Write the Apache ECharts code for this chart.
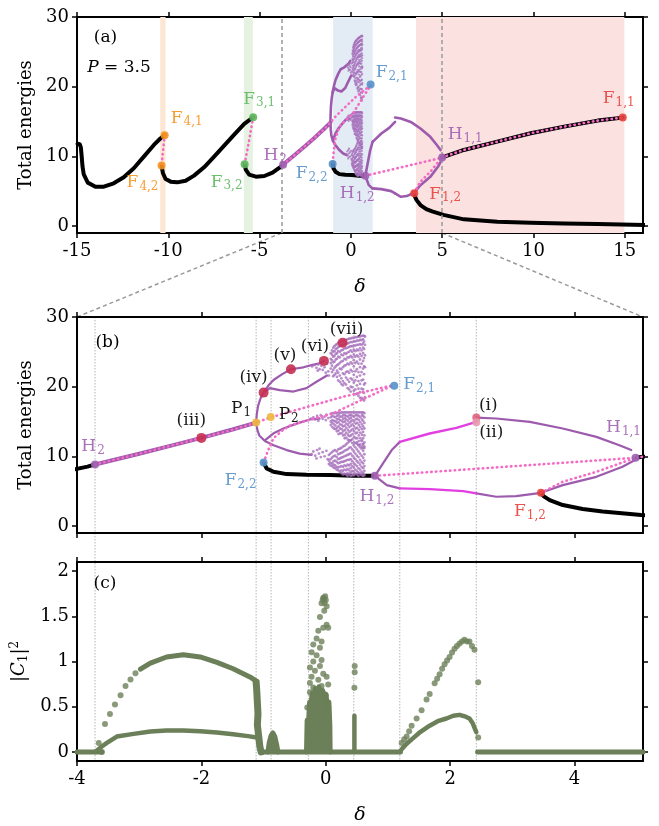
<!DOCTYPE html>
<html><head><meta charset="utf-8">
<script src="https://cdn.jsdelivr.net/npm/echarts@6/dist/echarts.min.js"></script>
<style>html,body{margin:0;padding:0;background:#fff}#c{width:659px;height:826px}</style>
</head><body><div id="c"></div>
<script>
// ================= DATA =================
const xTicksA = [-15,-10,-5,0,5,10,15];
const yTicksAB = [0,10,20,30];
const xTicksBC = [-4,-2,0,2,4];
const yTicksC = [0,0.5,1,1.5,2];

// shaded bands in (a)
const bandsA = [[-10.44,-10.15],[-5.86,-5.37],[-0.97,1.19],[3.57,14.98]];
// zoom window edges in (a)
const zoomEdgesA = [-3.8, 5.0];
// dotted guides in (b),(c)
const guideX = [-3.71,-1.12,-0.88,-0.28,0.45,1.19,2.42];

// stable branches (black)
const blk1 = [[-14.97,11.8],[-14.85,11.75],[-14.79,11.3],[-14.75,10.2],[-14.7,8.6],[-14.63,7.4],[-14.41,6.23],[-13.99,5.65],[-13.53,5.65],[-12.99,6.13],[-12.44,6.99],[-11.89,8.29],[-11.34,9.96],[-10.79,11.64],[-10.42,12.6],[-10.2,13.03]];
const blk2 = [[-10.37,8.67],[-10.35,8.52],[-10.29,7.57],[-10.15,6.75],[-9.87,6.37],[-9.51,6.27],[-9.05,6.51],[-8.59,7.23],[-8.04,8.43],[-7.49,9.96],[-6.94,11.54],[-6.39,13.12],[-5.84,14.66],[-5.35,15.61]];
const blk3 = [[-5.82,8.86],[-5.75,8.05],[-5.57,7.38],[-5.2,7.09],[-4.74,7.18],[-4.29,7.66],[-3.83,8.52],[-3.71,8.84]];
const blk4 = [[-1.0,9.1],[-0.95,8.26],[-0.84,7.78],[-0.63,7.45],[-0.31,7.35],[0.07,7.31],[0.44,7.21],[0.79,7.21]];
const blk5 = [[5.0,9.85],[6.19,10.92],[8.02,12.11],[9.85,13.32],[11.68,14.27],[13.52,15.13],[14.89,15.56]];
const blk6 = [[3.46,4.77],[3.5,4.3],[3.6,3.72],[3.81,3.01],[4.13,2.44],[4.45,2.1],[5.07,1.6],[6.19,0.96],[8.02,0.62],[9.85,0.48],[11.68,0.38],[13.52,0.29],[16.1,0.14]];

// unstable branches (pink dotted)
const pkF4 = [[-10.2,13.03],[-10.37,8.67]];
const pkF3 = [[-5.35,15.61],[-5.55,12.6],[-5.82,8.86]];
const pkUpper = [[-3.71,8.84],[-3.0,10.37],[-2.0,12.65],[-1.5,13.8],[-1.12,14.85],[-0.886,15.6],[-0.3,17.1],[0.3,18.6],[1.08,20.2]];
const pkLower = [[-1.0,9.13],[-0.9,11.5],[-0.84,12.6],[-0.7,13.7],[-0.58,14.4],[-0.2,15.4],[0.1,16.1],[0.6,18.2],[1.08,20.2]];
const pkH12H11 = [[0.79,7.21],[4.98,9.8]];
const pkF12H11 = [[3.46,4.77],[3.81,6.35],[4.35,7.78],[4.98,9.8]];
const pkH11F11 = [[5.0,9.85],[6.19,10.92],[8.02,12.11],[9.85,13.32],[11.68,14.27],[13.52,15.13],[14.89,15.56]];

// periodic orbits (purple)
const pH2P1 = [[-3.71,8.84],[-3.0,10.37],[-2.5,11.5],[-2.0,12.65],[-1.5,13.85],[-1.12,14.85]];
const pUp1 = [[-1.12,14.85],[-1.11,16.0],[-1.09,17.2],[-1.05,18.3],[-1.0,19.15],[-0.92,20.2],[-0.84,20.96],[-0.7,21.8],[-0.56,22.5],[-0.36,22.78],[-0.23,23.1],[-0.12,23.3],[-0.03,23.7]];
const pUp2 = [[-1.0,19.15],[-0.9,19.8],[-0.74,19.5],[-0.52,19.3],[-0.31,19.8],[-0.15,20.7],[0.02,21.6]];
const pLow1 = [[-1.12,14.85],[-1.1,13.8],[-1.07,13.0],[-0.98,12.2],[-0.84,11.6],[-0.63,10.9],[-0.42,10.4],[-0.23,10.2]];
const pLow2 = [[-0.98,12.3],[-0.84,13.3],[-0.68,14.0],[-0.47,14.7],[-0.26,15.3],[-0.1,15.4]];
const pLoopUpA = [[0.79,7.21],[0.92,8.98],[1.06,10.9],[1.19,12.08]];
const mLoopUp = [[1.19,12.08],[1.67,13.28],[2.1,14.09],[2.42,14.94]];
const pLoopUpB = [[2.42,15.57],[2.74,15.43],[3.28,14.94],[3.81,14.0],[4.35,12.8],[4.72,11.6],[4.91,10.9]];
const pLoopLowA = [[0.79,7.21],[0.98,5.87],[1.19,5.4]];
const mLoopLow = [[1.19,5.4],[1.67,5.3],[2.21,5.01],[2.42,4.68]];
const pLoopLowB = [[2.42,4.68],[2.74,4.2],[3.06,4.3],[3.46,4.77]];
const pF12H11 = [[3.46,4.77],[3.81,5.87],[4.35,7.06],[4.77,8.5],[4.98,9.5]];

// chaotic clouds (purple dots)
const cloudBlobs = [[-0.22,22.9],[-0.18,23.1],[-0.15,22.7],[-0.12,23.2],[-0.1,22.5],[-0.07,23.0],[-0.05,22.4],[-0.02,22.8],[0.02,23.3],[0.04,22.2],[-0.13,22.3],[0.0,22.0],[0.05,21.6],
 [-0.24,15.4],[-0.2,15.6],[-0.17,15.3],[-0.14,15.8],[-0.11,15.5],[-0.08,15.9],[-0.05,15.4],[-0.02,15.7],[0.01,16.0],[0.04,15.5],[-0.12,15.1],[0.0,15.2],
 [-0.23,10.3],[-0.2,10.7],[-0.17,10.1],[-0.14,10.9],[-0.11,10.4],[-0.08,9.9],[-0.05,10.6],[-0.02,10.0],[0.01,10.8],[0.03,9.6],[-0.1,11.1],[-0.15,9.7]];
const cloudTopCols = [
 [0.08,[24.8,24.0,23.4,22.6]],[0.1,[25.2,24.6,23.8,23.0,22.1]],[0.12,[25.6,25.0,24.3,23.5,22.4,21.5]],[0.14,[25.8,25.1,24.4,23.6,22.7,21.7]],
 [0.16,[26.0,25.4,24.7,23.9,22.9,21.9]],[0.18,[26.1,25.5,24.8,24.0,23.1,22.3,21.4]],
 [0.2,[26.3,25.7,25.1,24.3,23.2,22.0,20.9]],[0.225,[26.4,25.8,25.0,24.2,23.4,22.6,21.6,20.7]],
 [0.25,[26.5,25.9,25.2,24.6,23.6,22.5,21.2,20.4]],[0.275,[26.6,26.0,25.3,24.5,23.7,22.8,21.9,20.8,20.2]],
 [0.3,[26.6,26.1,25.5,24.8,24.0,23.0,21.8,20.5]],[0.325,[26.7,26.2,25.5,24.7,23.9,23.1,22.1,21.3,20.3]],
 [0.35,[26.8,26.2,25.6,24.9,24.2,23.3,22.2,21.0,19.8]],[0.375,[26.9,26.3,25.7,25.0,24.2,23.2,22.0,20.7,19.6]],
 [0.4,[26.9,26.4,25.8,25.2,24.4,23.5,22.4,21.2,20.0,19.3]],[0.425,[27.0,26.4,25.8,25.0,24.2,23.3,22.2,21.0,19.9]],
 [0.45,[27.0,26.5,25.9,25.3,24.6,23.8,22.9,21.7,20.6,19.4]],[0.475,[27.1,26.5,25.9,25.1,24.3,23.4,22.2,20.9,19.6,18.9]],
 [0.5,[27.1,26.6,26.0,25.3,24.5,23.6,22.5,21.4,20.2,19.0]],[0.525,[27.2,26.6,26.0,25.2,24.3,23.3,22.1,20.8,19.7,18.7]],
 [0.55,[27.2,26.7,26.1,25.5,24.7,23.9,22.8,21.6,20.4,19.2,18.4]],[0.575,[27.3,26.7,26.0,25.2,24.4,23.3,22.1,20.9,19.7,18.4]],
 [0.6,[27.3,26.8,26.2,25.6,24.8,23.7,22.6,21.0,19.6,18.2]],[0.615,[27.3,26.5,25.4,24.1,22.9,21.8,20.3,19.1,18.0]],
 [0.63,[27.2,26.0,24.5,22.8,20.5,18.5]]];
const cloudMidCols = [
 [0.08,[16.1,15.6,15.0,14.5]],[0.105,[16.2,15.8,15.2,14.8,14.2]],[0.13,[16.2,15.7,15.1,14.6,14.0]],[0.155,[16.2,15.6,15.0,14.4,13.9]],
 [0.18,[16.2,15.8,15.3,14.8,14.1,13.6]],[0.205,[16.3,15.9,15.4,14.9,14.3,13.7,13.2]],
 [0.23,[16.2,15.7,15.2,14.6,14.0,13.3]],[0.255,[16.3,15.7,15.1,14.5,13.9,13.3]],
 [0.28,[16.3,15.9,15.4,14.9,14.3,13.6,13.0]],[0.305,[16.3,15.9,15.5,15.0,14.4,13.8,13.1,12.6]],
 [0.33,[16.3,15.8,15.3,14.7,14.1,13.4,12.7]],[0.355,[16.3,15.7,15.1,14.5,13.8,13.1,12.4]],
 [0.38,[16.3,15.9,15.4,14.8,14.2,13.5,12.9,12.3]],[0.405,[16.3,15.9,15.5,15.0,14.4,13.7,13.0,12.3]],
 [0.43,[16.3,15.8,15.2,14.6,13.9,13.2,12.5]],[0.455,[16.3,15.7,15.0,14.3,13.6,12.8,12.0]],
 [0.48,[16.3,15.9,15.3,14.7,14.0,13.3,12.6,11.9]],[0.505,[16.3,15.9,15.4,14.8,14.1,13.4,12.6,11.8]],
 [0.53,[16.3,15.8,15.2,14.5,13.8,13.0,12.2,11.6]],[0.555,[16.3,15.6,14.9,14.2,13.4,12.6,11.7]],
 [0.58,[16.3,15.9,15.3,14.6,13.9,13.1,12.3,11.4]],[0.6,[16.3,15.8,15.1,14.3,13.5,12.6,11.8,11.2]],
 [0.62,[16.2,15.6,14.8,14.0,13.0,12.0,11.2]]];
const cloudLowCols = [
 [0.05,[10.2,9.4,8.9]],[0.075,[10.4,9.6,9.1,8.7]],[0.1,[10.6,9.8,9.0,8.6]],[0.125,[10.8,10.0,9.3,8.8,8.4]],
 [0.15,[10.9,10.1,9.4,8.7,8.3]],[0.175,[10.7,9.9,9.2,8.5,8.1]],[0.2,[11.0,10.3,9.6,9.0,8.4,8.0]],[0.225,[11.1,10.4,9.7,9.1,8.5,7.8]],
 [0.25,[11.2,10.5,9.8,9.2,8.6,8.0,7.6]],[0.275,[11.4,10.6,9.9,9.2,8.5,7.9,7.4]],[0.3,[11.5,10.8,10.0,9.3,8.7,8.1,7.5]],
 [0.325,[11.7,10.9,10.1,9.4,8.6,8.0,7.4]],[0.35,[11.9,11.0,10.2,9.5,8.8,8.2,7.6,7.2]],[0.375,[12.1,11.2,10.3,9.5,8.7,8.0,7.4]],
 [0.4,[12.3,11.3,10.4,9.6,8.9,8.3,7.7,7.2]],[0.425,[11.9,11.0,10.1,9.3,8.6,7.9,7.3]],[0.45,[11.6,10.7,9.8,9.0,8.4,7.8,7.3]],
 [0.475,[11.3,10.4,9.6,8.8,8.1,7.5]],[0.5,[12.0,11.0,10.1,9.3,8.6,7.9,7.4]],[0.525,[11.6,10.7,9.9,9.1,8.3,7.7,7.2]],
 [0.55,[11.3,10.4,9.5,8.8,8.1,7.5]],[0.575,[12.2,11.1,10.1,9.2,8.5,7.8,7.3]],[0.6,[11.7,10.8,9.8,9.0,8.3,7.6,7.2]],
 [0.62,[11.4,10.3,9.4,8.6,7.9,7.3]]];

// labelled points
const bifA = [[-10.2,13.03],[-10.37,8.67],[-5.35,15.61],[-5.82,8.86],[-3.71,8.8],[-1.0,8.9],[0.79,7.21],[1.08,20.3],[5.0,9.85],[3.47,4.7],[14.89,15.56]];
const bifANames = ['F_4,1','F_4,2','F_3,1','F_3,2','H_2','F_2,2','H_1,2','F_2,1','H_1,1','F_1,2','F_1,1'];
const bifB = [[-3.71,8.84],[-2.0,12.65],[-1.12,14.85],[-0.886,15.66],[-1.0,19.15],[-0.56,22.5],[-0.03,23.7],[0.27,26.3],[1.1,20.15],[-1.0,9.13],[0.79,7.21],[2.42,15.57],[2.42,14.9],[4.98,9.8],[3.46,4.77]];
const bifBNames = ['H_2','(iii)','P_1','P_2','(iv)','(v)','(vi)','(vii)','F_2,1','F_2,2','H_1,2','(i)','(ii)','H_1,1','F_1,2'];

// panel (c): |C1|^2
const cZero1 = [[-4,0],[-3.6,0]];
const cZero2 = [[-1.05,0],[1.2,0]];
const cZero3 = [[2.44,0],[5.1,0]];
const cLowArc = [[-3.71,0],[-3.6,0.06],[-3.52,0.1],[-3.36,0.17],[-3.09,0.2],[-2.82,0.227],[-2.56,0.237],[-2.29,0.237],[-2.02,0.23],[-1.75,0.215],[-1.49,0.196],[-1.25,0.175],[-1.11,0.16]];
const cUpArc = [[-2.98,0.915],[-2.82,0.983],[-2.56,1.05],[-2.29,1.074],[-2.02,1.05],[-1.75,0.99],[-1.49,0.92],[-1.22,0.83],[-1.11,0.78]];
const cUpSparse = [[-3.65,0.1],[-3.6,0.0],[-3.55,0.31],[-3.47,0.42],[-3.39,0.525],[-3.3,0.627],[-3.22,0.729],[-3.14,0.8],[-3.06,0.87]];
const cDrop = [[-1.12,0.77],[-1.11,0.68],[-1.1,0.55],[-1.09,0.42],[-1.1,0.3],[-1.08,0.18],[-1.06,0.06],[-1.04,0]];
const cBump = [[-0.93,0],[-0.91,0.1],[-0.88,0.18],[-0.85,0.21],[-0.82,0.17],[-0.79,0.08],[-0.77,0]];
const cChaosCore = [[-0.31,0],[-0.3,0.35],[-0.28,0.3],[-0.26,0.55],[-0.24,0.5],[-0.22,0.65],[-0.2,0.58],[-0.17,0.7],[-0.14,0.62],[-0.11,0.72],[-0.08,0.6],[-0.05,0.68],[-0.02,0.58],[0.0,0.64],[0.03,0.5],[0.05,0.55],[0.065,0.3],[0.07,0]];
const cChaosDots = [[-0.041,1.706],[0.0,1.679],[-0.068,1.645],[0.013,1.611],[-0.025,1.56],[-0.03,1.7],[-0.01,1.72],[-0.05,1.68],[-0.02,1.65],
 [-0.094,1.492],[0.013,1.407],[-0.041,1.373],[-0.12,1.339],[0.039,1.373],[-0.148,1.255],[-0.068,1.221],[-0.201,1.187],[-0.094,1.153],
 [-0.228,1.102],[-0.148,1.068],[-0.068,1.017],[-0.201,1.0],[-0.255,0.933],[-0.094,0.95],[-0.175,0.899],[-0.228,0.831],[-0.041,0.865],
 [-0.255,0.763],[-0.12,0.797],[0.013,0.831],[-0.201,0.712],[-0.068,0.729],[0.039,0.746],[-0.255,0.661],[0.0,0.627],[0.013,0.56],[0.039,0.492],[-0.298,0.492]];
const cSpike = [[0.46,0],[0.46,0.4]];
const cSpikeDots = [[0.465,0.95],[0.465,0.88],[0.46,0.71]];
const cRUp = [[1.22,0.1],[1.26,0.14],[1.3,0.17],[1.34,0.23],[1.38,0.29],[1.46,0.37],[1.54,0.46],[1.62,0.58],[1.67,0.64],[1.75,0.76],[1.79,0.81],[1.83,0.86],[1.87,0.92],[1.91,0.97],[1.95,1.01],[1.99,1.05],[2.03,1.1],[2.07,1.14],[2.11,1.17],[2.15,1.2],[2.19,1.22],[2.23,1.24],[2.27,1.22],[2.31,1.22],[2.35,1.17],[2.39,1.13],[2.45,0.77],[2.45,0.16]];
const cRLow = [[1.19,0],[1.22,0.03],[1.3,0.09],[1.4,0.15],[1.5,0.21],[1.67,0.29],[1.8,0.34],[1.94,0.37],[2.05,0.4],[2.15,0.41],[2.25,0.39],[2.31,0.37],[2.36,0.32],[2.39,0.27],[2.42,0.22]];

// ================= STYLE =================
const FF = 'DejaVu Serif';
const C = {orange:'#f7931e', green:'#5cb85c', blue:'#5591c9', red:'#e8413c', purp:'#a062b2', pink:'#f46ac4',
  mag:'#e23fe2', crim:'#c52f52', yel:'#efb73e', cg:'#6b7f58', line:'#9d5bad', cloud:'#a670bb', black:'#000'};
const labStyle = {
 a:{'F_4,1':[C.orange,[22,-17]],'F_4,2':[C.orange,[-19,17]],'F_3,1':[C.green,[6,-18]],'F_3,2':[C.green,[-18,18]],
    'H_2':[C.purp,[-8,-9]],'F_2,2':[C.blue,[-21,10]],'H_1,2':[C.purp,[-8,18]],'F_2,1':[C.blue,[21,-12]],
    'H_1,1':[C.purp,[23,-23]],'F_1,2':[C.red,[31,1]],'F_1,1':[C.red,[-4,-19]]},
 b:{'H_2':[C.purp,[-2,-18]],'(iii)':[C.crim,[-10,-17]],'P_1':[C.yel,[-15,-14]],'P_2':[C.yel,[18,-2]],'(iv)':[C.crim,[-10,-15]],
    '(v)':[C.crim,[-6,-14]],'(vi)':[C.crim,[-9,-14]],'(vii)':[C.crim,[4,-13]],'F_2,1':[C.blue,[25,-1]],'F_2,2':[C.blue,[-23,18]],
    'H_1,2':[C.purp,[2,21]],'(i)':['#e0607a',[12,-12]],'(ii)':['#e89aae',[15,10]],'H_1,1':[C.purp,[-12,-30]],'F_1,2':[C.red,[-11,19]]}
};
const blackText = n => n[0]==='(' || n[0]==='P';

const flat = cols => cols.flatMap(c => c[1].map(y => [c[0], y]));

function ln(gi, data, color, width, extra) {
  return Object.assign({type:'line', xAxisIndex:gi*2, yAxisIndex:gi*2, data, symbol:'none', silent:true,
    lineStyle:{color, width, cap:'round', join:'round'}, z:3}, extra||{});
}
function dotted(gi, data) {
  return ln(gi, data, C.pink, 2.6, {z:6, lineStyle:{color:C.pink, width:2.6, type:[0.5,4.2], cap:'round'}});
}
function sc(gi, data, color, size, extra) {
  return Object.assign({type:'scatter', xAxisIndex:gi*2, yAxisIndex:gi*2, data, symbolSize:size, silent:true,
    itemStyle:{color}, z:4}, extra||{});
}
function labelled(gi, pts, names, panel, size) {
  const items = pts.map((v,i) => {
    const n = names[i]; const st = labStyle[panel][n];
    const tc = blackText(n) ? '#000' : st[0];
    const parts = n.split('_');
    const fmt = parts.length>1 ? `{m|${parts[0]}}{s|${parts[1]}}` : `{m|${n}}`;
    return {value:v, symbolSize: n[0]==='(' && n!=='(i)' && n!=='(ii)' ? size+2 : size,
      itemStyle:{color:st[0], opacity:0.9},
      label:{show:true, position:'inside', offset:st[1], formatter:fmt,
        rich:{m:{fontFamily:FF, fontSize:17, color:tc, lineHeight:20},
              s:{fontFamily:FF, fontSize:12, color:tc, lineHeight:14, padding:[8,0,0,1]}}}};
  });
  return {type:'scatter', xAxisIndex:gi*2, yAxisIndex:gi*2, data:items, silent:true, z:8};
}

const ext = [{x:[-15,16], y:[-1,30], xt:xTicksA, yt:yTicksAB, xl:true, yname:'Total energies'},
             {x:[-4,5.1], y:[-1,30], xt:xTicksBC, yt:yTicksAB, xl:false, yname:'Total energies'},
             {x:[-4,5.1], y:[-0.1,2.1], xt:xTicksBC, yt:yTicksC, xl:true, yname:'{b||}{i|C}{sub|1}{b||}{sup|2}'}];
const tickStyle = {show:true, inside:false, length:5, lineStyle:{color:'#000', width:1.5}};
const lineSt = {show:true, onZero:false, lineStyle:{color:'#000', width:2}};
const labSt = {fontFamily:FF, fontSize:18, color:'#000'};
const xAxis = [], yAxis = [];
ext.forEach((e,gi) => {
  xAxis.push({type:'value', gridIndex:gi, position:'bottom', min:e.x[0], max:e.x[1], axisLine:lineSt, splitLine:{show:false},
    axisTick:Object.assign({customValues:e.xt}, tickStyle),
    axisLabel:{show:e.xl, customValues:e.xt, margin:9, ...labSt},
    name: e.xl ? 'δ' : '', nameLocation:'middle', nameGap:45, nameTextStyle:{fontFamily:FF, fontSize:19, fontStyle:'italic', color:'#000'}});
  xAxis.push({type:'value', gridIndex:gi, position:'top', min:e.x[0], max:e.x[1], axisLine:lineSt, splitLine:{show:false},
    axisTick:Object.assign({customValues:e.xt}, tickStyle), axisLabel:{show:false}});
  yAxis.push({type:'value', gridIndex:gi, position:'left', min:e.y[0], max:e.y[1], axisLine:lineSt, splitLine:{show:false},
    axisTick:Object.assign({customValues:e.yt}, tickStyle),
    axisLabel:{customValues:e.yt, margin:8, ...labSt},
    name:e.yname, nameLocation:'middle', nameGap: gi===2 ? 42 : 34,
    nameTextStyle:{fontFamily:FF, fontSize:18, color:'#000',
      rich:{i:{fontFamily:FF, fontSize:18, fontStyle:'italic'}, b:{fontFamily:FF, fontSize:18},
            sub:{fontFamily:FF, fontSize:12, padding:[8,0,0,0]}, sup:{fontFamily:FF, fontSize:12, padding:[0,0,10,0]}}}});
  yAxis.push({type:'value', gridIndex:gi, position:'right', min:e.y[0], max:e.y[1], axisLine:lineSt, splitLine:{show:false},
    axisTick:Object.assign({customValues:e.yt}, tickStyle), axisLabel:{show:false}});
});

const series = [];
// bands + zoom edges in (a)
series.push({type:'line', xAxisIndex:0, yAxisIndex:0, data:[], silent:true, z:1,
  markArea:{silent:true, data: bandsA.map((b,i) => [{xAxis:b[0], itemStyle:{color:['#fde7d3','#e5f2e1','#e3ebf4','#fbe1df'][i]}},{xAxis:b[1]}])},
  markLine:{silent:true, symbol:'none', label:{show:false}, lineStyle:{color:'#999', type:[4,3], width:1.5},
    data: zoomEdgesA.map(x => ({xAxis:x}))}});

for (const gi of [0,1]) {
  // black stable branches
  [blk1,blk2,blk3,blk4,blk5,blk6].forEach(d => series.push(ln(gi, d, C.black, 4, {z:3})));
  // purple orbits
  series.push(ln(gi, pH2P1, C.line, 4, {z:4}));
  [pUp1,pUp2,pLow1,pLow2,pLoopUpA,pLoopUpB,pLoopLowA,pLoopLowB,pF12H11].forEach(d => series.push(ln(gi, d, C.line, gi===0?2.6:2.2, {z:4})));
  [mLoopUp, mLoopLow].forEach(d => series.push(ln(gi, d, gi===0?C.line:C.mag, gi===0?2.6:2.4, {z:4})));
  series.push(sc(gi, cloudBlobs.concat(flat(cloudTopCols), flat(cloudMidCols), flat(cloudLowCols)), C.cloud, gi===0?2.2:2.8, {itemStyle:{color:C.cloud, opacity:0.8}}));
  // unstable (dotted)
  [pkUpper, pkLower, pkH12H11, pkF12H11, pkH11F11].forEach(d => series.push(dotted(gi, d)));
}
series.push(dotted(0, pkF4));
series.push(dotted(0, pkF3));
series.push(labelled(0, bifA, bifANames, 'a', 8));
series.push(labelled(1, bifB, bifBNames, 'b', 8));

// panel (c)
[cZero1,cZero2,cZero3].forEach(d => series.push(ln(2, d, C.cg, 5)));
series.push(ln(2, cLowArc, C.cg, 4.5));
series.push(ln(2, cUpArc, C.cg, 5));
series.push(ln(2, cDrop, C.cg, 7));
series.push(ln(2, cBump, C.cg, 5, {areaStyle:{color:C.cg, opacity:1}}));
series.push(ln(2, cChaosCore, C.cg, 5, {areaStyle:{color:C.cg, opacity:1}}));
series.push(ln(2, cSpike, C.cg, 4.5));
series.push(ln(2, cRLow, C.cg, 4.5));
series.push(sc(2, cUpSparse.concat(cChaosDots, cSpikeDots, cRUp), C.cg, 6));

const chart = echarts.init(document.getElementById('c'), null, {renderer:'canvas'});
chart.setOption({
  animation:false,
  backgroundColor:'#fff',
  grid:[{left:77, right:16, top:17, height:216}, {left:77, right:16, top:317, height:216}, {left:77, right:16, top:562, height:216}],
  xAxis, yAxis, series
});

// decorations computed from axes
const P = (gi, v) => chart.convertToPixel({gridIndex:gi}, v);
const gfx = [];
const txtAnn = [[0,[-13.44,27.0],'(a)'],[0,[-12.7,22.8],'{i|P} = 3.5'],[1,[-3.51,26.4],'(b)'],[2,[-3.55,1.86],'(c)']];
txtAnn.forEach(([gi,v,t]) => { const p = P(gi,v);
  gfx.push({type:'text', x:p[0], y:p[1], z:50, style:{text:t, fontFamily:FF, fontSize:17, fill:'#000', align:'center', verticalAlign:'middle',
    rich:{i:{fontFamily:FF, fontSize:17, fontStyle:'italic'}}}}); });
// zoom connectors
[[[zoomEdgesA[0],-1],[-4,30]],[[zoomEdgesA[1],-1],[5.1,30]]].forEach(([a,b]) => {
  const p1 = P(0,a), p2 = P(1,b);
  gfx.push({type:'line', z:0, shape:{x1:p1[0],y1:p1[1],x2:p2[0],y2:p2[1]}, style:{stroke:'#999', lineWidth:1.5, lineDash:[4,3]}});
});
// guide lines spanning (b) and (c)
const yTop = P(1,[0,30])[1], yBot = P(2,[0,-0.1])[1];
guideX.forEach(x => { const px = P(1,[x,0])[0];
  gfx.push({type:'line', z:0, shape:{x1:px,y1:yTop,x2:px,y2:yBot}, style:{stroke:'#b5b5b5', lineWidth:1, lineDash:[1.5,1.5]}}); });
chart.setOption({graphic:gfx});
</script></body></html>
